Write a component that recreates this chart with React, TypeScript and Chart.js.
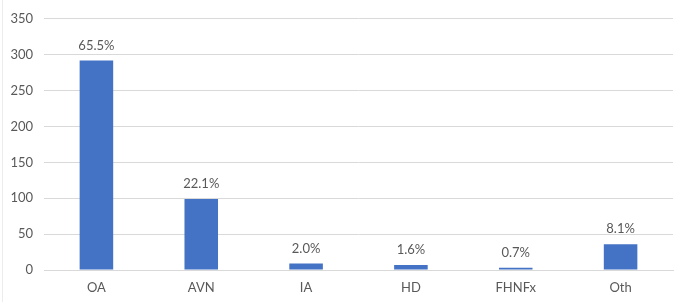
import React, { useEffect, useRef } from "react";
import { Chart, registerables } from "chart.js";

Chart.register(...registerables);

const categories = ["OA", "AVN", "IA", "HD", "FHNFx", "Oth"];
const counts = [292, 99, 9, 7, 3, 36];
const percentLabels = ["65.5%", "22.1%", "2.0%", "1.6%", "0.7%", "8.1%"];
const yTicks = [0, 50, 100, 150, 200, 250, 300, 350];

const FONT = "Lato, 'Open Sans', sans-serif";
const TEXT = "#595959";

const labelPlugin = {
  id: "pctLabels",
  afterDatasetsDraw(chart: any) {
    const ctx = chart.ctx;
    const meta = chart.getDatasetMeta(0);
    ctx.save();
    ctx.font = `13px ${FONT}`;
    ctx.fillStyle = TEXT;
    ctx.textAlign = "center";
    ctx.textBaseline = "middle";
    meta.data.forEach((bar: any, i: number) => {
      ctx.fillText(percentLabels[i], bar.x, bar.y - 15);
    });
    ctx.restore();
  },
};

export default function App() {
  const ref = useRef<HTMLCanvasElement>(null);
  useEffect(() => {
    document.body.style.margin = "0";
    const chart = new Chart(ref.current!, {
      type: "bar",
      data: {
        labels: categories,
        datasets: [
          {
            data: counts,
            backgroundColor: "#4472C4",
            categoryPercentage: 1,
            barPercentage: 0.32,
          },
        ],
      },
      options: {
        animation: false,
        responsive: false,
        layout: { padding: { left: 0, right: 15, top: 16, bottom: 0 } },
        plugins: { legend: { display: false }, tooltip: { enabled: false } },
        scales: {
          x: {
            grid: { display: false, drawTicks: false },
            border: { display: true, color: "#d9d9d9" },
            ticks: { color: TEXT, font: { family: FONT, size: 13 }, padding: 10 },
            afterFit: (s: any) => {
              s.height = 36;
            },
          },
          y: {
            min: 0,
            max: 350,
            afterBuildTicks: (s: any) => {
              s.ticks = yTicks.map((v) => ({ value: v }));
            },
            grid: { color: "#d9d9d9", drawTicks: false },
            border: { display: false },
            ticks: { color: TEXT, font: { family: FONT, size: 13 }, padding: 11 },
            afterFit: (s: any) => {
              s.width = 44;
            },
          },
        },
      },
      plugins: [labelPlugin],
    });
    return () => chart.destroy();
  }, []);
  return (
    <div style={{ width: 688, height: 306, position: "relative" }}>
      <canvas ref={ref} width={688} height={306} style={{ display: "block" }} />
      <div style={{ position: "absolute", left: 2, top: 0, width: 1, height: 302, background: "#ececec" }} />
    </div>
  );
}
